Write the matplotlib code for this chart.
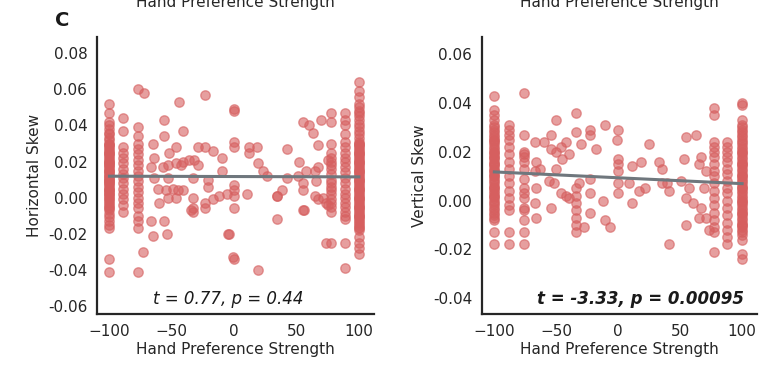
import numpy as np
import matplotlib.pyplot as plt

# ---- data ----
# Horizontal skew panel: columns at -100 / +100 plus scattered points
h_neg100 = [0.052, 0.047, 0.042, 0.040, 0.038, 0.036, 0.035, 0.033, 0.032, 0.030,
            0.029, 0.028, 0.027, 0.026, 0.025, 0.024, 0.023, 0.022, 0.021, 0.020,
            0.019, 0.018, 0.017, 0.016, 0.015, 0.014, 0.013, 0.012, 0.011, 0.010,
            0.009, 0.008, 0.007, 0.006, 0.005, 0.004, 0.003, 0.002, 0.001, 0.000,
            -0.001, -0.002, -0.003, -0.004, -0.005, -0.006, -0.007, -0.009, -0.011,
            -0.013, -0.015, -0.017, -0.034, -0.041,
            0.025, 0.020, 0.015, 0.012, 0.008, 0.004, 0.018, 0.010, 0.030, 0.002]
h_pos100 = [0.064, 0.059, 0.056, 0.052, 0.050, 0.048, 0.047, 0.045, 0.043, 0.041,
            0.039, 0.037, 0.035, 0.033, 0.031, 0.030, 0.029, 0.028, 0.027, 0.026,
            0.025, 0.024, 0.023, 0.022, 0.021, 0.020, 0.019, 0.018, 0.017, 0.016,
            0.015, 0.014, 0.013, 0.012, 0.011, 0.010, 0.009, 0.008, 0.007, 0.006,
            0.005, 0.004, 0.003, 0.002, 0.001, 0.000, -0.001, -0.002, -0.003, -0.004,
            -0.005, -0.006, -0.007, -0.008, -0.009, -0.010, -0.011, -0.012, -0.013,
            -0.014, -0.015, -0.016, -0.017, -0.018, -0.022, -0.025, -0.028, -0.031,
            0.030, 0.025, 0.020, 0.015, 0.010, 0.005, 0.000, -0.005, -0.010]
h_neg89 = [0.044, 0.037, 0.028, 0.025, 0.022, 0.019, 0.016, 0.013, 0.011, 0.008,
           0.005, 0.002, -0.001, -0.004, -0.008]
h_neg77 = [0.060, 0.039, 0.034, 0.030, 0.027, 0.024, 0.021, 0.018, 0.015, 0.012,
           0.009, 0.006, 0.003, 0.000, -0.003, -0.006, -0.010, -0.013, -0.017, -0.041]
h_pos78 = [0.047, 0.042, 0.030, 0.025, 0.022, 0.020, 0.018, 0.016, 0.013, 0.010,
           0.008, 0.006, 0.004, 0.002, -0.001, -0.003, -0.005, -0.008, -0.025]
h_pos89 = [0.047, 0.043, 0.040, 0.035, 0.031, 0.028, 0.025, 0.022, 0.020, 0.017,
           0.014, 0.011, 0.008, 0.005, 0.002, 0.000, -0.003, -0.005, -0.008, -0.010,
           -0.012, -0.025, -0.039]
h_other_x = [-72, -73, -67, -65, -54, -65, -64, -67, -56, -56, -41, -44, -23, -47, -52,
             -29, -23, -17, -10, -10, -57, -53, -47, -41, -36, -32, -29, -43, -64, -53,
             -33, -21, -61, -55, -49, -45, -41, -53, -47, -60, -33, -33, -33, -23, -17,
             -12, -6, -5, -1, -21, -56, -35, -23,
             0, 0, 0, 0, 12, 18, 12, 19, 23, 26, 42, 0, 0, 0, 10, 0, -4, 0, 19, 34,
             38, 34, 42, 51, 52, 55, 55, 55, 58, 55, 60, 63, 70, 67, 65, 67, 66, 65,
             67, 71, 74, 75, 74, 75, 56, 34]
h_other_y = [0.058, -0.030, -0.013, -0.021, -0.020, 0.030, 0.022, 0.017, 0.043, 0.034,
             0.037, 0.053, 0.057, 0.028, 0.025, 0.028, 0.028, 0.026, 0.022, 0.015,
             0.017, 0.018, 0.019, 0.020, 0.021, 0.021, 0.018, 0.018, 0.011, 0.011,
             0.011, 0.010, 0.005, 0.004, 0.005, 0.004, 0.004, 0.000, 0.000, -0.003,
             0.000, -0.006, -0.008, -0.003, -0.001, 0.001, 0.002, -0.020, -0.033,
             0.006, -0.013, -0.007, -0.006,
             0.049, 0.048, 0.031, 0.028, 0.028, 0.028, 0.025, 0.019, 0.015, 0.012,
             0.027, 0.007, 0.004, 0.001, 0.002, -0.006, -0.020, -0.034, -0.040, 0.001,
             0.004, -0.012, 0.011, 0.012, 0.020, 0.008, 0.004, -0.007, 0.015, 0.042,
             0.040, 0.036, 0.043, 0.029, 0.015, 0.017, 0.009, 0.001, -0.001, 0.000,
             -0.003, -0.004, -0.025, 0.021, -0.007, 0.001]

# Vertical skew panel
v_neg100 = [0.043, 0.037, 0.035, 0.033, 0.031, 0.030, 0.029, 0.028, 0.027, 0.026,
            0.025, 0.024, 0.023, 0.022, 0.021, 0.020, 0.019, 0.018, 0.017, 0.016,
            0.015, 0.014, 0.013, 0.012, 0.011, 0.010, 0.009, 0.008, 0.007, 0.006,
            0.005, 0.004, 0.003, 0.002, 0.001, 0.000, -0.001, -0.002, -0.003, -0.004,
            -0.005, -0.006, -0.007, -0.008, -0.013, -0.018,
            0.025, 0.020, 0.015, 0.010, 0.005, 0.018, 0.012, 0.002]
v_pos100 = [0.040, 0.039, 0.033, 0.031, 0.030, 0.029, 0.028, 0.027, 0.026, 0.025,
            0.024, 0.023, 0.022, 0.021, 0.020, 0.019, 0.018, 0.017, 0.016, 0.015,
            0.014, 0.013, 0.012, 0.011, 0.010, 0.009, 0.008, 0.007, 0.006, 0.005,
            0.004, 0.003, 0.002, 0.001, 0.000, -0.001, -0.002, -0.003, -0.004, -0.005,
            -0.006, -0.007, -0.008, -0.009, -0.010, -0.011, -0.012, -0.013, -0.014,
            -0.016, -0.022, -0.024,
            0.020, 0.015, 0.010, 0.005, 0.000, -0.005, -0.010]
v_neg88 = [0.031, 0.029, 0.027, 0.025, 0.022, 0.019, 0.016, 0.013, 0.010, 0.007,
           0.004, 0.001, -0.002, -0.004, -0.013, -0.018]
v_neg76 = [0.044, 0.027, 0.020, 0.019, 0.018, 0.016, 0.013, 0.009, 0.005, 0.003,
           0.001, -0.003, -0.004, -0.008, -0.013, -0.018]
v_pos77 = [0.038, 0.035, 0.024, 0.022, 0.020, 0.018, 0.015, 0.012, 0.010, 0.007,
           0.004, 0.001, -0.002, -0.005, -0.008, -0.011, -0.013, -0.021]
v_pos88 = [0.024, 0.022, 0.020, 0.018, 0.016, 0.013, 0.011, 0.008, 0.005, 0.003,
           0.000, -0.003, -0.006, -0.009, -0.012, -0.015, -0.018]
v_other_x = [-67, -60, -54, -50, -54, -50, -46, -42, -34, -34, -30, -23, -23, -18, -11,
             0, -66, -67, -63, -56, -52, -66, -67, -66, -54, -46, -42, -40, -32, -34,
             -34, -34, -34, -34, -34, -34, -28, -23, -23, -23, -12, -11, -7, 0, 0, 0,
             -1, 0, 0, 11, 9, 11, 18, 17, 22, 25, 33, 35, 35, 39, 41, 41, 53, 55, 63,
             51, 57, 55, 60, 67, 55, 67, 65, 71, 69, 71, 73, 65, -50, -45, -40]
v_other_y = [0.024, 0.024, 0.027, 0.033, 0.021, 0.020, 0.022, 0.024, 0.036, 0.028,
             0.023, 0.029, 0.027, 0.021, 0.031, 0.029, 0.016, 0.012, 0.013, 0.008,
             0.007, 0.005, -0.001, -0.007, -0.003, 0.003, 0.002, 0.001, 0.007, 0.005,
             0.002, -0.001, -0.004, -0.007, -0.010, -0.013, -0.011, 0.009, 0.003,
             -0.005, 0.000, -0.008, -0.011, 0.015, 0.012, 0.003, 0.025, 0.017, 0.007,
             0.014, 0.007, -0.001, 0.016, 0.004, 0.005, 0.023, 0.016, 0.013, 0.007,
             0.007, 0.004, -0.018, 0.017, 0.026, 0.027, 0.008, 0.005, 0.001, -0.001,
             -0.003, -0.010, 0.018, 0.015, 0.012, 0.005, -0.007, -0.012, -0.007,
             0.013, 0.017, 0.019]

stats_h = 't = 0.77, p = 0.44'
stats_v = 't = -3.33, p = 0.00095'


def collect(cols, other_x, other_y):
    xs, ys = [], []
    for xv, vals in cols:
        xs += [xv] * len(vals)
        ys += vals
    return np.array(xs + other_x, float), np.array(ys + other_y, float)


hx, hy = collect([(-100, h_neg100), (100, h_pos100), (-89, h_neg89), (-77, h_neg77),
                  (78, h_pos78), (89, h_pos89)], h_other_x, h_other_y)
vx, vy = collect([(-100, v_neg100), (100, v_pos100), (-88, v_neg88), (-76, v_neg76),
                  (77, v_pos77), (88, v_pos88)], v_other_x, v_other_y)

dot_color = '#d65f5f'
line_color = '#6f777d'

fig = plt.figure(figsize=(7.74, 3.67), dpi=100)
ax1 = fig.add_axes([0.1253, 0.1444, 0.3577, 0.7546])
ax2 = fig.add_axes([0.6227, 0.1444, 0.3553, 0.7546])


def panel(ax, x, y, ylabel, ylim, yticks, stat, bold, stat_x):
    ax.scatter(x, y, s=46, color=dot_color, alpha=0.6, linewidths=1, zorder=2)
    b, a = np.polyfit(x, y, 1)
    xx = np.array([x.min(), x.max()])
    ax.plot(xx, a + b * xx, color=line_color, lw=2.2, zorder=3)
    ax.set_xlim(-110, 112)
    ax.set_ylim(*ylim)
    ax.set_xticks([-100, -50, 0, 50, 100])
    ax.set_yticks(yticks)
    ax.set_yticklabels([f'{t:.2f}' for t in yticks])
    ax.tick_params(length=0, pad=7, labelsize=11, colors='#262626')
    ax.set_xlabel('Hand Preference Strength', fontsize=11, color='#262626', labelpad=2)
    ax.set_ylabel(ylabel, fontsize=11, color='#262626')
    for s in ['top', 'right']:
        ax.spines[s].set_visible(False)
    for s in ['left', 'bottom']:
        ax.spines[s].set_color('#262626')
        ax.spines[s].set_linewidth(1.6)
    ax.text(stat_x, 0.022, stat, transform=ax.transAxes,
            ha='center', va='bottom', fontsize=12, style='italic',
            weight='bold' if bold else 'normal', color='#1a1a1a')


panel(ax1, hx, hy, 'Horizontal Skew', (-0.0645, 0.089),
      [-0.06, -0.04, -0.02, 0.0, 0.02, 0.04, 0.06, 0.08], stats_h, False, 0.475)
panel(ax2, vx, vy, 'Vertical Skew', (-0.0465, 0.067),
      [-0.04, -0.02, 0.0, 0.02, 0.04, 0.06], stats_v, True, 0.575)

# panel letter and the cut-off labels of the row above
fig.text(0.071, 0.93, 'C', fontsize=14, weight='bold', color='#1a1a1a')
fig.text(0.304, 0.982, 'Hand Preference Strength', fontsize=11, ha='center',
         va='baseline', color='#262626')
fig.text(0.8, 0.982, 'Hand Preference Strength', fontsize=11, ha='center',
         va='baseline', color='#262626')

fig.savefig('out.png', dpi=100)
